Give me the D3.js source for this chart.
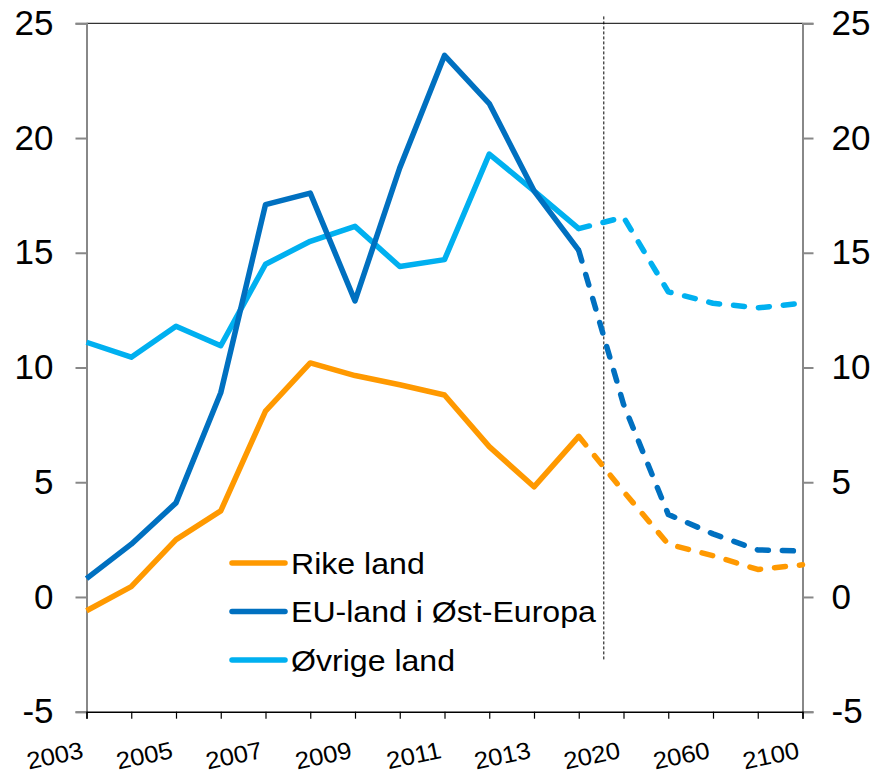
<!DOCTYPE html>
<html>
<head>
<meta charset="utf-8">
<script src="https://cdn.jsdelivr.net/npm/d3@7"></script>
<style>
  body { margin: 0; background: #fff; }
  svg { display: block; font-family: "Liberation Sans", Arial, sans-serif; }
</style>
</head>
<body>
<div id="chart"></div>
<script>
// categories on the x axis (every other one gets a label)
var years = ['2003','2004','2005','2006','2007','2008','2009','2010','2011','2012','2013','2014',
             '2020','2040','2060','2080','2100'];
var tickLabels = ['2003','2005','2007','2009','2011','2013','2020','2060','2100'];
var yTicks = [-5, 0, 5, 10, 15, 20, 25];

// historical values 2003-2014
var rikeHist   = [-0.6, 0.45, 2.5, 3.75, 8.1, 10.2, 9.65, 9.25, 8.8, 6.55, 4.8, 7.0];
var euHist     = [0.8, 2.3, 4.1, 8.9, 17.1, 17.6, 12.9, 18.7, 23.6, 21.5, 17.7, 15.1];
var ovrigeHist = [11.1, 10.45, 11.8, 10.95, 14.5, 15.5, 16.15, 14.4, 14.7, 19.3, 17.7, 16.05];

// projections 2014-2100 (dashed)
var projYears  = ['2014','2020','2040','2060','2080','2100'];
var rikeProj   = [7.0, 4.6, 2.3, 1.8, 1.2, 1.4];
var euProj     = [15.1, 8.4, 3.6, 2.75, 2.05, 2.0];
var ovrigeProj = [16.05, 16.55, 13.3, 12.8, 12.6, 12.8];

var seriesNames = ['Rike land', 'EU-land i Øst-Europa', 'Øvrige land'];
var colors = ['#ff9900', '#0070c0', '#00b0f0'];

var width = 874, height = 775;
// plot box (top is a reserved window name, so use other names)
var plotLeft = 86.5, plotRight = 802.5, plotTop = 23.3, plotBottom = 711.7;

var x = d3.scalePoint()
  .domain(years)
  .range([plotLeft, plotRight]);

var y = d3.scaleLinear()
  .domain([-5, 25])
  .range([plotBottom, plotTop]);

var svg = d3.select('#chart').append('svg')
  .attr('width', width)
  .attr('height', height);

// top border
svg.append('line')
  .attr('x1', plotLeft).attr('x2', plotRight)
  .attr('y1', plotTop).attr('y2', plotTop)
  .style('stroke', '#333').style('stroke-width', 1.3);

// plain hyphen for negatives, like the original
var fmt = function(d) { return String(d); };

// left axis
var yLeft = svg.append('g')
  .attr('transform', 'translate(' + plotLeft + ',0)')
  .call(d3.axisLeft(y).tickValues(yTicks).tickSize(11).tickPadding(22).tickFormat(fmt));

// right axis
var yRight = svg.append('g')
  .attr('transform', 'translate(' + plotRight + ',0)')
  .call(d3.axisRight(y).tickValues(yTicks).tickSize(11).tickPadding(18).tickFormat(fmt));

[yLeft, yRight].forEach(function(g) {
  g.select('.domain').style('stroke', '#888').style('stroke-width', 2);
  g.selectAll('.tick line').style('stroke', '#888').style('stroke-width', 2);
  g.selectAll('.tick text')
    .style('font-size', '35px')
    .style('fill', '#000')
    .style('font-family', '"Liberation Sans", Arial, sans-serif');
});

// bottom axis
var xAxis = svg.append('g')
  .attr('transform', 'translate(0,' + plotBottom + ')')
  .call(d3.axisBottom(x).tickSize(7).tickFormat(''));

xAxis.select('.domain').style('stroke', '#000').style('stroke-width', 1.5);
xAxis.selectAll('.tick line').style('stroke', '#000').style('stroke-width', 1.2);

svg.append('g').selectAll('text')
  .data(tickLabels)
  .enter().append('text')
  .attr('transform', function(d) {
    return 'translate(' + (x(d) - 2) + ',' + (plotBottom + 46) + ') rotate(-12) scale(1.07,1)';
  })
  .attr('text-anchor', 'end')
  .style('font-size', '24px')
  .text(function(d) { return d; });

// vertical divider between history and projections
var xDiv = x('2014') + 0.56 * x.step();
svg.append('line')
  .attr('x1', xDiv).attr('x2', xDiv)
  .attr('y1', y(25.3)).attr('y2', y(-2.75))
  .style('stroke', '#000')
  .style('stroke-width', 1)
  .style('stroke-dasharray', '3,2');

var line = d3.line()
  .x(function(d) { return x(d.year); })
  .y(function(d) { return y(d.value); });

var hist = [rikeHist, euHist, ovrigeHist];
var proj = [rikeProj, euProj, ovrigeProj];

// draw in reverse so the orange line is on top
[2, 1, 0].forEach(function(i) {
  var histData = hist[i].map(function(v, j) { return { year: years[j], value: v }; });
  var projData = proj[i].map(function(v, j) { return { year: projYears[j], value: v }; });

  svg.append('path')
    .datum(projData)
    .attr('d', line)
    .style('fill', 'none')
    .style('stroke', colors[i])
    .style('stroke-width', 5.5)
    .style('stroke-linecap', 'round')
    .style('stroke-linejoin', 'round')
    .style('stroke-dasharray', '11,14');

  svg.append('path')
    .datum(histData)
    .attr('d', line)
    .style('fill', 'none')
    .style('stroke', colors[i])
    .style('stroke-width', 5.5)
    .style('stroke-linejoin', 'round');
});

// legend
var legend = svg.append('g')
  .attr('transform', 'translate(230,563)');

var item = legend.selectAll('g')
  .data(seriesNames)
  .enter().append('g')
  .attr('transform', function(d, i) { return 'translate(0,' + i * 48.5 + ')'; });

item.append('line')
  .attr('x1', 2).attr('x2', 55)
  .attr('y1', 0).attr('y2', 0)
  .style('stroke', function(d, i) { return colors[i]; })
  .style('stroke-width', 5.5)
  .style('stroke-linecap', 'round');

// text in the original is slightly stretched sideways
item.append('text')
  .attr('transform', 'translate(61,0) scale(1.07,1)')
  .attr('dy', '0.36em')
  .style('font-size', '30px')
  .text(function(d) { return d; });
</script>
</body>
</html>
